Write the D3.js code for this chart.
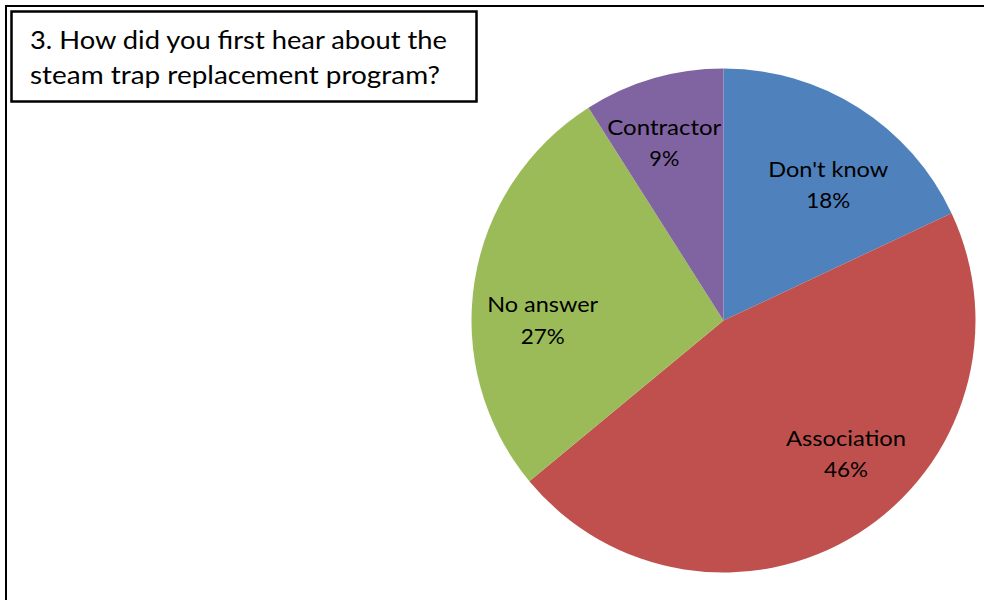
<!DOCTYPE html>
<html>
<head>
<meta charset="utf-8">
<script src="https://cdn.jsdelivr.net/npm/d3@7"></script>
<style>
  html, body { margin: 0; padding: 0; background: #fff; }
  svg { display: block; }
  text { font-family: Lato, "Open Sans", "Liberation Sans", sans-serif; fill: #000; }
</style>
</head>
<body>
<svg id="chart" width="984" height="600"></svg>
<script>
// Survey answers, in clockwise order from 12 o'clock
const categories = ["Don't know", "Association", "No answer", "Contractor"];
const shares = [18, 46, 27, 9];             // percent of respondents
const colors = ["#4F81BD", "#C0504D", "#9BBB59", "#8064A2"];
const titleLines = ["3. How did you first hear about the", "steam trap replacement program?"];

// Label placement: angular nudge (degrees) from slice middle, and distance from centre
const labelNudge = [7, -8.5, -11.5, -3];
const labelRadius = [165, 187, 181, 180];

const W = 984, H = 600;
const cx = 723.5, cy = 320.5, R = 252;

const svg = d3.select("#chart");

// Outer chart frame (runs past the right and bottom edges)
svg.append("rect")
  .attr("x", 6).attr("y", 6)
  .attr("width", W + 20).attr("height", H + 20)
  .attr("fill", "none").attr("stroke", "#000").attr("stroke-width", 2);

// Pie
const pie = d3.pie().sort(null).value(d => d);
const arcs = pie(shares);
const arc = d3.arc().innerRadius(0).outerRadius(R);

const g = svg.append("g").attr("transform", `translate(${cx},${cy})`);
g.selectAll("path.slice")
  .data(arcs)
  .join("path")
  .attr("class", "slice")
  .attr("d", arc)
  .attr("fill", (d, i) => colors[i]);

// Category and percentage labels inside the slices
const labelWidths = [[120, 44], [120, 44], [111, 44], [114, 30]];
const lab = g.selectAll("g.lab")
  .data(arcs)
  .join("g")
  .attr("class", "lab")
  .attr("transform", (d, i) => {
    const a = (d.startAngle + d.endAngle) / 2 + labelNudge[i] * Math.PI / 180;
    const r = labelRadius[i];
    return `translate(${r * Math.sin(a)},${-r * Math.cos(a)})`;
  });
lab.append("text")
  .attr("text-anchor", "middle")
  .attr("y", -16)
  .attr("font-size", 21)
  .attr("textLength", (d, i) => labelWidths[i][0])
  .attr("lengthAdjust", "spacingAndGlyphs")
  .text((d, i) => categories[i]);
lab.append("text")
  .attr("text-anchor", "middle")
  .attr("y", 15.5)
  .attr("font-size", 21)
  .attr("textLength", (d, i) => labelWidths[i][1])
  .attr("lengthAdjust", "spacingAndGlyphs")
  .text(d => d3.format(".0f")(d.value) + "%");

// Title box
svg.append("rect")
  .attr("x", 11.5).attr("y", 11.5)
  .attr("width", 465).attr("height", 90)
  .attr("fill", "#fff").attr("stroke", "#000").attr("stroke-width", 2.5);

const titleW = [417, 410];
svg.selectAll("text.title")
  .data(titleLines)
  .join("text")
  .attr("class", "title")
  .attr("x", 30)
  .attr("y", (d, i) => 49 + i * 35)
  .attr("font-size", 25)
  .attr("textLength", (d, i) => titleW[i])
  .attr("lengthAdjust", "spacingAndGlyphs")
  .text(d => d);
</script>
</body>
</html>
